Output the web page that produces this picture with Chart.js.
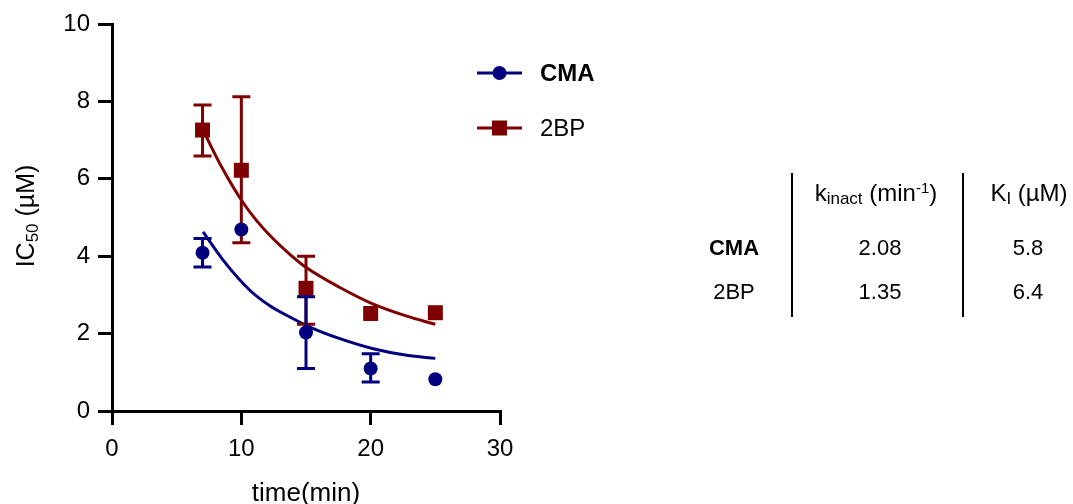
<!DOCTYPE html>
<html>
<head>
<meta charset="utf-8">
<script src="https://cdn.jsdelivr.net/npm/chart.js@4.4.1/dist/chart.umd.min.js"></script>
<style>
  html, body { margin: 0; padding: 0; background: #fff; }
  #wrap { position: relative; width: 1073px; height: 504px; overflow: hidden; font-family: 'Liberation Sans', Arial, sans-serif; }
  #chart { position: absolute; left: 0; top: 0; }
  .cell { position: absolute; width: 200px; text-align: center; font-size: 22px; color: #000; line-height: 26px; white-space: nowrap; }
  .cell.head { font-size: 24px; }
  .cell sub { font-size: 17px; line-height: 0; vertical-align: -3px; }
  .cell sup { font-size: 15px; line-height: 0; vertical-align: 8px; }
  .vline { position: absolute; width: 2px; background: #000; }
</style>
</head>
<body>
<div id="wrap">
  <canvas id="chart" width="1073" height="504"></canvas>
  <div class="vline" style="left:791px; top:173px; height:144px;"></div>
  <div class="vline" style="left:962px; top:173px; height:144px;"></div>
  <div id="table"></div>
</div>
<script>
// Measured points (mean with error range)
const times   = [7, 10, 15, 20, 25];
const cmaMean = [4.09, 4.69, 2.03, 1.10, 0.82];
const cmaLow  = [3.72, null, 1.10, 0.75, null];
const cmaHigh = [4.46, null, 2.95, 1.48, null];
const bpMean  = [7.26, 6.22, 3.17, 2.52, 2.54];
const bpLow   = [6.59, 4.35, 2.24, null, null];
const bpHigh  = [7.91, 8.12, 4.00, null, null];

// Fitted curves
const cmaFitX = [7.04, 8.59, 10.66, 12.2, 13.75, 15.3, 17.62, 20.2, 22.79, 25];
const cmaFitY = [4.63, 3.90, 3.12, 2.72, 2.43, 2.17, 1.87, 1.61, 1.44, 1.36];
const bpFitX  = [7.17, 8.47, 10.02, 11.18, 12.46, 13.75, 15.05, 17.62, 20.2, 22.79, 25];
const bpFitY  = [7.17, 6.31, 5.44, 4.92, 4.45, 4.05, 3.70, 3.19, 2.76, 2.45, 2.24];

const xTicks = [0, 10, 20, 30];
const yTicks = [0, 2, 4, 6, 8, 10];

// Table on the right
const tableRows  = ['CMA', '2BP'];
const kinactVals = ['2.08', '1.35'];
const kiVals     = ['5.8', '6.4'];

const BLUE = '#00007f';
const RED = '#7f0000';
const FONT = "'Liberation Sans', Arial, sans-serif";

function pts(xs, ys){ return xs.map((x, i) => ({x, y: ys[i]})); }

const errorBars = {
  id: 'errorBars',
  beforeDatasetDraw(chart, args){
    const ds = chart.data.datasets[args.index];
    if(!ds.errLow) return;
    const {ctx, scales:{x, y}} = chart;
    ctx.save();
    ctx.strokeStyle = ds.borderColor;
    ctx.lineWidth = 3;
    ds.data.forEach((p, i) => {
      const lo = ds.errLow[i], hi = ds.errHigh[i];
      if(lo == null || hi == null) return;
      const px = x.getPixelForValue(p.x);
      const pLo = y.getPixelForValue(lo), pHi = y.getPixelForValue(hi);
      ctx.beginPath();
      ctx.moveTo(px, pLo); ctx.lineTo(px, pHi);
      ctx.moveTo(px - 9, pLo); ctx.lineTo(px + 9, pLo);
      ctx.moveTo(px - 9, pHi); ctx.lineTo(px + 9, pHi);
      ctx.stroke();
    });
    ctx.restore();
  }
};

const extras = {
  id: 'extras',
  afterDraw(chart){
    const ctx = chart.ctx;
    ctx.save();
    // y axis title with subscript
    ctx.translate(27, 216);
    ctx.rotate(-Math.PI / 2);
    ctx.fillStyle = '#000';
    ctx.textBaseline = 'middle';
    const big = '25px ' + FONT, small = '17px ' + FONT;
    ctx.font = big; const w1 = ctx.measureText('IC').width; const w3 = ctx.measureText(' (µM)').width;
    ctx.font = small; const w2 = ctx.measureText('50').width;
    let sx = -(w1 + w2 + w3) / 2;
    ctx.font = big; ctx.fillText('IC', sx, 0); sx += w1;
    ctx.font = small; ctx.fillText('50', sx, 6); sx += w2;
    ctx.font = big; ctx.fillText(' (µM)', sx, 0);
    ctx.restore();

    // legend: line + marker + label
    const items = [
      {label: 'CMA', color: BLUE, style: 'circle', bold: true, y: 73},
      {label: '2BP', color: RED, style: 'rect', bold: false, y: 128}
    ];
    ctx.save();
    items.forEach(it => {
      ctx.strokeStyle = it.color; ctx.fillStyle = it.color; ctx.lineWidth = 3;
      ctx.beginPath(); ctx.moveTo(477, it.y); ctx.lineTo(522, it.y); ctx.stroke();
      if(it.style === 'circle'){
        ctx.beginPath(); ctx.arc(499.5, it.y, 7, 0, Math.PI * 2); ctx.fill();
      } else {
        ctx.fillRect(492, it.y - 7.5, 15, 15);
      }
      ctx.fillStyle = '#000';
      ctx.font = (it.bold ? 'bold ' : '') + '24px ' + FONT;
      ctx.textBaseline = 'middle';
      ctx.fillText(it.label, 540, it.y + 1);
    });
    ctx.restore();
  }
};

new Chart(document.getElementById('chart'), {
  type: 'scatter',
  data: {
    datasets: [
      { label: 'CMA', data: pts(times, cmaMean), errLow: cmaLow, errHigh: cmaHigh,
        borderColor: BLUE, backgroundColor: BLUE, pointStyle: 'circle', pointRadius: 7, pointBorderWidth: 0 },
      { label: '2BP', data: pts(times, bpMean), errLow: bpLow, errHigh: bpHigh,
        borderColor: RED, backgroundColor: RED, pointStyle: 'rect', pointRadius: 10.6, pointBorderWidth: 0 },
      { label: 'CMA fit', data: pts(cmaFitX, cmaFitY), showLine: true, pointRadius: 0,
        borderColor: BLUE, borderWidth: 3, cubicInterpolationMode: 'monotone' },
      { label: '2BP fit', data: pts(bpFitX, bpFitY), showLine: true, pointRadius: 0,
        borderColor: RED, borderWidth: 3, cubicInterpolationMode: 'monotone' }
    ]
  },
  options: {
    responsive: false,
    animation: false,
    layout: { padding: { left: 0, top: 24, right: 573, bottom: 0 } },
    plugins: { legend: { display: false }, tooltip: { enabled: false } },
    scales: {
      x: {
        min: 0, max: 30,
        afterBuildTicks: s => { s.ticks = xTicks.map(v => ({value: v})); },
        afterFit: s => { s.height = 93; },
        border: { display: true, color: '#000', width: 3 },
        grid: { drawOnChartArea: false, drawTicks: true, tickLength: 14, lineWidth: 3, color: '#000' },
        ticks: { color: '#000', font: { family: FONT, size: 24 }, padding: 10, maxRotation: 0 },
        title: { display: true, text: 'time(min)', color: '#000', font: { family: FONT, size: 26 }, padding: { top: 0, bottom: -5 } }
      },
      y: {
        min: 0, max: 10,
        afterBuildTicks: s => { s.ticks = yTicks.map(v => ({value: v})); },
        afterFit: s => { s.width = 112; },
        border: { display: true, color: '#000', width: 3 },
        grid: { drawOnChartArea: false, drawTicks: true, tickLength: 14, lineWidth: 3, color: '#000' },
        ticks: { color: '#000', font: { family: FONT, size: 24 }, padding: 8 }
      }
    }
  },
  plugins: [errorBars, extras]
});

// table as HTML text
(function renderTable(){
  const el = document.getElementById('table');
  const cell = (html, cx, cy, cls, extra) => {
    const d = document.createElement('div');
    d.className = 'cell' + (cls ? ' ' + cls : '');
    d.innerHTML = html;
    d.style.left = (cx - 100) + 'px';
    d.style.top = (cy - 13) + 'px';
    if(extra) Object.assign(d.style, extra);
    el.appendChild(d);
  };
  cell('k<sub>inact</sub> (min<sup>-1</sup>)', 876, 193, 'head');
  cell('K<sub>I</sub> (µM)', 1029, 193, 'head');
  const rowY = [248, 292];
  tableRows.forEach((r, i) => {
    cell(r, 734, rowY[i], '', i === 0 ? {fontWeight: 'bold'} : null);
    cell(kinactVals[i], 880, rowY[i]);
    cell(kiVals[i], 1028, rowY[i]);
  });
})();
</script>
</body>
</html>
